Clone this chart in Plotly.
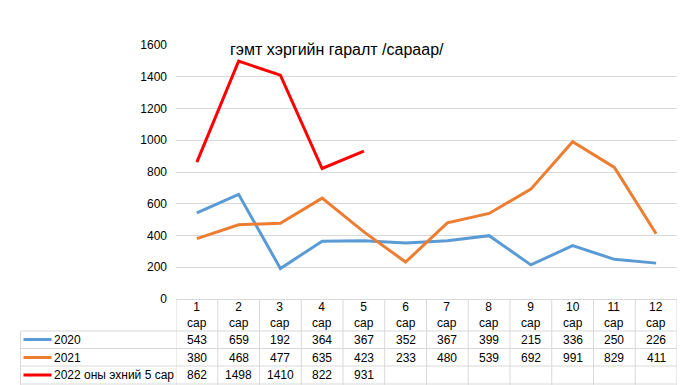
import plotly.graph_objects as go

months = ["1", "2", "3", "4", "5", "6", "7", "8", "9", "10", "11", "12"]
month_word = "сар"
s2020 = [543, 659, 192, 364, 367, 352, 367, 399, 215, 336, 250, 226]
s2021 = [380, 468, 477, 635, 423, 233, 480, 539, 692, 991, 829, 411]
s2022 = [862, 1498, 1410, 822, 931]
series_names = ["2020", "2021", "2022 оны эхний 5 сар"]
title_text = "гэмт хэргийн гаралт /сараар/"
y_ticks = [0, 200, 400, 600, 800, 1000, 1200, 1400, 1600]

W, H = 691, 385
L, R, T, B = 176, 14, 45, 86
PW = W - L - R
PH = H - T - B
colors = ["#5B9BD5", "#ED7D31", "#FF0000"]
grid = "#D9D9D9"
font = "Liberation Sans, Arial, sans-serif"

def py(p):  # pixel y -> paper y
    return (H - B - p) / PH

def px(p):  # pixel x -> paper x
    return (p - L) / PW

xs = list(range(1, 13))
fig = go.Figure()
for name, vals, c in zip(series_names, [s2020, s2021, s2022], colors):
    fig.add_trace(go.Scatter(x=xs[:len(vals)], y=vals, mode="lines", name=name,
                             line=dict(color=c, width=3), hoverinfo="skip"))

shapes = []
annotations = []
line_style = dict(color=grid, width=1)
# vertical column lines
for k in range(13):
    shapes.append(dict(type="line", xref="x", yref="paper", x0=k + 0.5, x1=k + 0.5,
                       y0=0, y1=py(H + 2), line=line_style, layer="below"))
# horizontal row lines
row_tops = [331, 348.5, 366, 384]
shapes.append(dict(type="line", xref="paper", yref="paper", x0=0, x1=1,
                   y0=py(299.5), y1=py(299.5), line=line_style))
for yy in row_tops:
    shapes.append(dict(type="line", xref="paper", yref="paper", x0=px(20.5), x1=1,
                       y0=py(yy), y1=py(yy), line=line_style))
shapes.append(dict(type="line", xref="paper", yref="paper", x0=px(20.5), x1=px(20.5),
                   y0=py(331), y1=py(H + 2), line=line_style))

# header texts
for i, m in enumerate(months):
    annotations.append(dict(x=xs[i], y=py(315), xref="x", yref="paper",
                            text=f"{m}<br>{month_word}", showarrow=False,
                            font=dict(family=font, size=12, color="#000"),
                            xanchor="center", yanchor="middle"))
# data rows
row_centers = [339.5, 357.5, 375]
for r, (vals, name, c) in enumerate(zip([s2020, s2021, s2022], series_names, colors)):
    for i, v in enumerate(vals):
        annotations.append(dict(x=xs[i], y=py(row_centers[r]), xref="x", yref="paper",
                                text=str(v), showarrow=False,
                                font=dict(family=font, size=12, color="#000"),
                                xanchor="center", yanchor="middle"))
    shapes.append(dict(type="line", xref="paper", yref="paper", x0=px(23.5), x1=px(51.5),
                       y0=py(row_centers[r]), y1=py(row_centers[r]),
                       line=dict(color=c, width=3)))
    annotations.append(dict(x=px(52), y=py(row_centers[r]), xref="paper", yref="paper",
                            text=name, showarrow=False,
                            font=dict(family=font, size=12, color="#000"),
                            xanchor="left", yanchor="middle"))

annotations.append(dict(x=px(337), y=py(50), xref="paper", yref="paper",
                        text=title_text, showarrow=False,
                        font=dict(family=font, size=16, color="#000"),
                        xanchor="center", yanchor="middle"))

fig.update_layout(
    width=W, height=H,
    margin=dict(l=L, r=R, t=T, b=B),
    paper_bgcolor="white", plot_bgcolor="white",
    showlegend=False,
    shapes=shapes, annotations=annotations,
    xaxis=dict(range=[0.5, 12.5], showticklabels=False, showgrid=False,
               zeroline=False, fixedrange=True),
    yaxis=dict(range=[0, 1600], tickvals=y_ticks, showgrid=True, gridcolor=grid,
               gridwidth=1, zeroline=False, ticklabelstandoff=8,
               tickfont=dict(family=font, size=12, color="#000"), fixedrange=True),
)
fig.write_html("out.html", config={"displayModeBar": False},
               post_script="document.body.style.margin='0';document.body.style.overflow='hidden';")
